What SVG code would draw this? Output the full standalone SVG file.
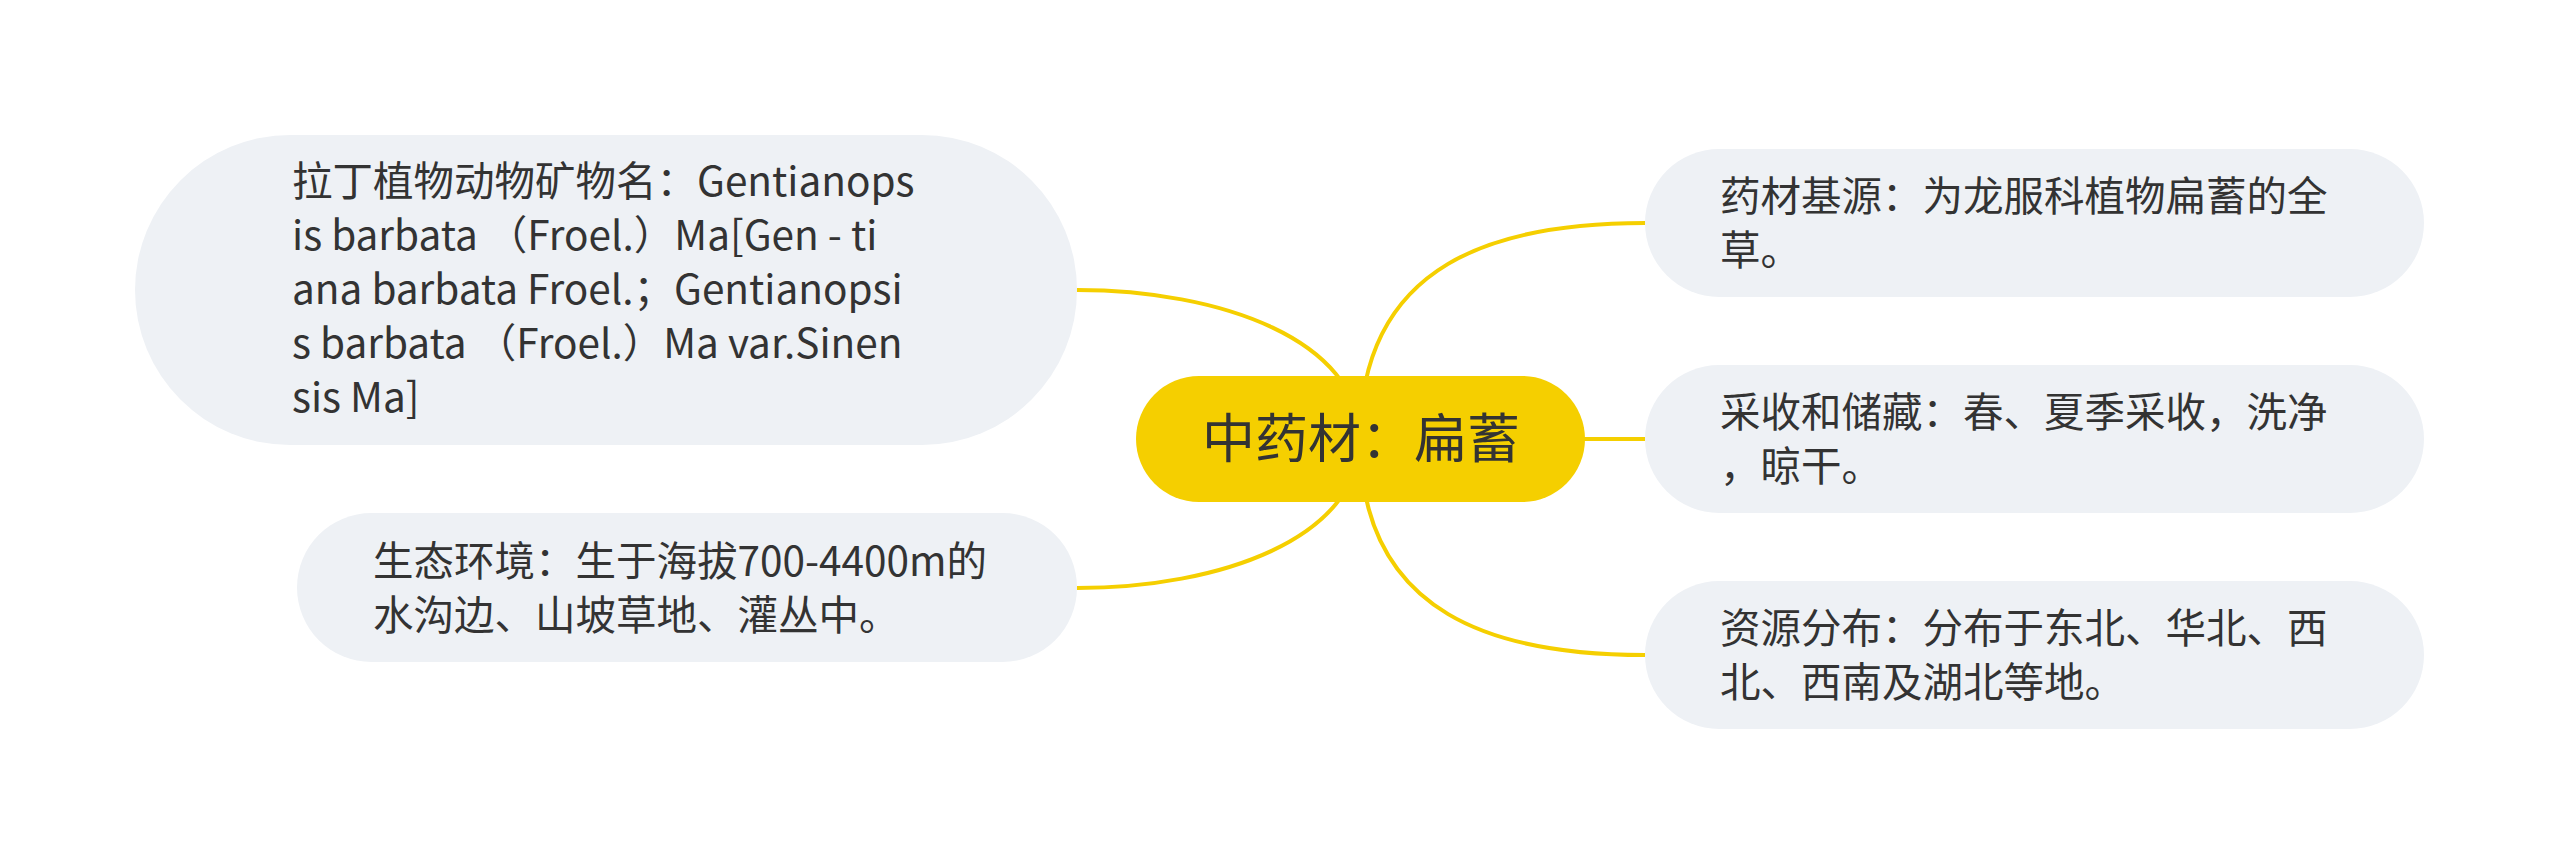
<svg xmlns="http://www.w3.org/2000/svg" width="2560" height="865" viewBox="0 0 2560 865">
<style>
.node{fill:#EEF1F5;}
.root{fill:#F5CF00;}
.t{font-family:"Noto Sans CJK SC","Microsoft YaHei",sans-serif;font-size:40.5px;fill:#333333;}
.rt{font-family:"Noto Sans CJK SC","Microsoft YaHei",sans-serif;font-size:53px;fill:#333333;}
.c{fill:none;stroke:#F5CF00;stroke-width:4;}
</style>
<rect width="2560" height="865" fill="#FFFFFF"/>
<g id="connectors">
<path class="c" d="M1360,439 C1360,340 1220,290 1077,290"/>
<path class="c" d="M1360,439 C1360,538 1220,588 1077,588"/>
<path class="c" d="M1360,439 C1360,260 1500,223 1645,223"/>
<path class="c" d="M1360,439 L1645,439"/>
<path class="c" d="M1360,439 C1360,618 1500,655 1645,655"/>
</g>
<g id="root">
<rect class="root" x="1136" y="376" width="449" height="126" rx="63"/>
<text class="rt" x="1361" y="458" text-anchor="middle">中药材：扁蓄</text>
</g>
<g id="n-latin">
<rect class="node" x="135" y="135" width="942" height="310" rx="155"/>
<text class="t">
<tspan x="292" y="196">拉丁植物动物矿物名：Gentianops</tspan>
<tspan x="292" y="250">is barbata （Froel.）Ma[Gen - ti</tspan>
<tspan x="292" y="304">ana barbata Froel.；Gentianopsi</tspan>
<tspan x="292" y="358">s barbata （Froel.）Ma var.Sinen</tspan>
<tspan x="292" y="412">sis Ma]</tspan>
</text>
</g>
<g id="n-eco">
<rect class="node" x="297" y="513" width="780" height="149" rx="74.5"/>
<text class="t">
<tspan x="373" y="576">生态环境：生于海拔700-4400m的</tspan>
<tspan x="373" y="630">水沟边、山坡草地、灌丛中。</tspan>
</text>
</g>
<g id="n-source">
<rect class="node" x="1645" y="149" width="779" height="148" rx="74"/>
<text class="t">
<tspan x="1720" y="211">药材基源：为龙服科植物扁蓄的全</tspan>
<tspan x="1720" y="265">草。</tspan>
</text>
</g>
<g id="n-harvest">
<rect class="node" x="1645" y="365" width="779" height="148" rx="74"/>
<text class="t">
<tspan x="1720" y="427">采收和储藏：春、夏季采收，洗净</tspan>
<tspan x="1720" y="481">，晾干。</tspan>
</text>
</g>
<g id="n-dist">
<rect class="node" x="1645" y="581" width="779" height="148" rx="74"/>
<text class="t">
<tspan x="1720" y="643">资源分布：分布于东北、华北、西</tspan>
<tspan x="1720" y="697">北、西南及湖北等地。</tspan>
</text>
</g>
</svg>
